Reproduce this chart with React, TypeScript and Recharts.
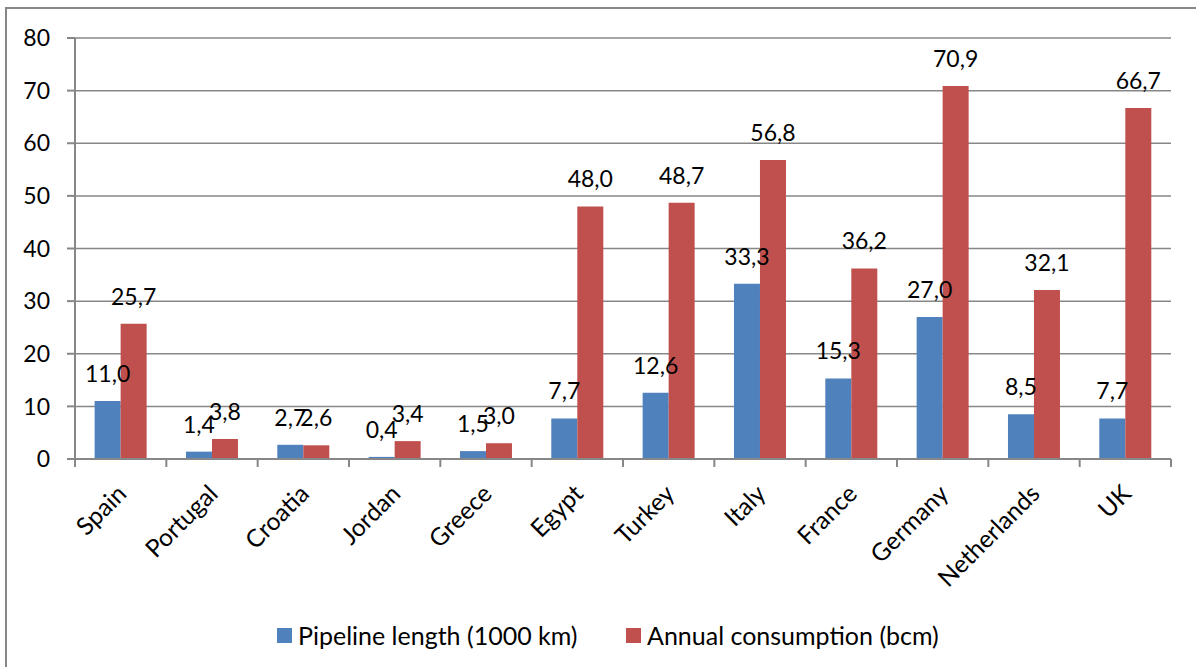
import React from "react";
import {
  Bar,
  BarChart,
  CartesianGrid,
  LabelList,
  XAxis,
  YAxis,
} from "recharts";

const categories = [
  "Spain",
  "Portugal",
  "Croatia",
  "Jordan",
  "Greece",
  "Egypt",
  "Turkey",
  "Italy",
  "France",
  "Germany",
  "Netherlands",
  "UK",
];
const pipelineLength = [11.0, 1.4, 2.7, 0.4, 1.5, 7.7, 12.6, 33.3, 15.3, 27.0, 8.5, 7.7];
const annualConsumption = [25.7, 3.8, 2.6, 3.4, 3.0, 48.0, 48.7, 56.8, 36.2, 70.9, 32.1, 66.7];
const yTicks = [0, 10, 20, 30, 40, 50, 60, 70, 80];
const yMinorTicks = [
  0, 2, 4, 6, 8, 10, 12, 14, 16, 18, 20, 22, 24, 26, 28, 30, 32, 34, 36, 38, 40,
  42, 44, 46, 48, 50, 52, 54, 56, 58, 60, 62, 64, 66, 68, 70, 72, 74, 76, 78, 80,
];

const series = [
  { key: "pipeline", name: "Pipeline length (1000 km)", color: "#4F81BD" },
  { key: "consumption", name: "Annual consumption (bcm)", color: "#C0504D" },
];

const data = categories.map((name, i) => ({
  name,
  pipeline: pipelineLength[i],
  consumption: annualConsumption[i],
}));

const FONT = "Lato, 'Liberation Sans', sans-serif";
const AXIS_GRAY = "#878787";

const fmt = (v: any) => Number(v).toFixed(1).replace(".", ",");

// category label rotated, plus Excel-style tick marks between categories
const CategoryTick = (props: any) => {
  const { x, y, payload, index } = props;
  const half = payload?.offset ?? 1096 / categories.length / 2;
  const isLast = index === categories.length - 1;
  const tx = x - 5;
  const ty = y + 24;
  return (
    <g>
      <line x1={x - half} x2={x - half} y1={y} y2={y + 8} stroke={AXIS_GRAY} strokeWidth={2} />
      {isLast && (
        <line x1={x + half} x2={x + half} y1={y} y2={y + 8} stroke={AXIS_GRAY} strokeWidth={2} />
      )}
      <text
        x={tx}
        y={ty}
        dy="0.71em"
        textAnchor="end"
        transform={`rotate(-45, ${tx}, ${ty})`}
        fontFamily={FONT}
        fontSize={24.5}
        fill="#000"
      >
        {payload.value}
      </text>
    </g>
  );
};

export default function App() {
  return (
    <div style={{ position: "relative", width: 1196, height: 667, background: "#fff" }}>
      <style>{"body{margin:0}"}</style>
      <div
        style={{
          position: "absolute",
          left: 5,
          top: 7,
          width: 1191,
          height: 660,
          borderTop: `2px solid ${AXIS_GRAY}`,
          borderLeft: `2px solid ${AXIS_GRAY}`,
          boxSizing: "border-box",
        }}
      />
      <div style={{ position: "absolute", left: 0, top: 0 }}>
        <BarChart
          width={1196}
          height={667}
          data={data}
          margin={{ top: 38, right: 25, left: 0, bottom: 88 }}
          barCategoryGap="21.5%"
          barGap={0}
        >
          <CartesianGrid
            horizontal
            vertical={false}
            stroke={AXIS_GRAY}
            strokeWidth={1.5}
          />
          <XAxis
            dataKey="name"
            height={120}
            interval={0}
            tickLine={false}
            tickSize={0}
            tickMargin={0}
            axisLine={{ stroke: AXIS_GRAY, strokeWidth: 2 }}
            tick={<CategoryTick />}
          />
          <YAxis
            yAxisId="minor"
            width={0}
            type="number"
            domain={[0, 80]}
            ticks={yMinorTicks}
            interval={0}
            tickSize={5}
            tickFormatter={() => ""}
            axisLine={false}
            tickLine={{ stroke: AXIS_GRAY, strokeWidth: 1.5 }}
          />
          <YAxis
            width={75}
            type="number"
            domain={[0, 80]}
            ticks={yTicks}
            interval={0}
            tickSize={8}
            tickMargin={17}
            axisLine={{ stroke: AXIS_GRAY, strokeWidth: 2 }}
            tickLine={{ stroke: AXIS_GRAY, strokeWidth: 2 }}
            tick={{ fontFamily: FONT, fontSize: 23, fill: "#000" }}
          />
          {series.map((s) => (
            <Bar key={s.key} dataKey={s.key} name={s.name} fill={s.color} isAnimationActive={false}>
              <LabelList
                dataKey={s.key}
                position="top"
                offset={19}
                formatter={fmt}
                style={{ fontFamily: FONT, fontSize: 23, fill: "#000" }}
              />
            </Bar>
          ))}
        </BarChart>
      </div>
      {series.map((s, i) => (
        <div
          key={s.key}
          style={{
            position: "absolute",
            left: i === 0 ? 277 : 626,
            top: 621,
            height: 28,
            display: "flex",
            alignItems: "center",
            fontFamily: FONT,
            fontSize: 25,
            color: "#000",
            whiteSpace: "nowrap",
          }}
        >
          <span style={{ width: 15, height: 15, background: s.color, marginRight: 6, display: "inline-block" }} />
          {s.name}
        </div>
      ))}
    </div>
  );
}
